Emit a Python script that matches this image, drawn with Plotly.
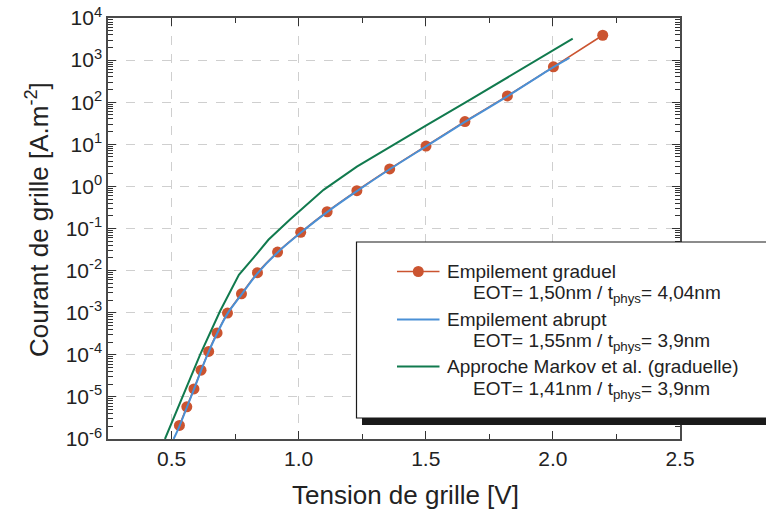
import plotly.graph_objects as go

# ---- data ----
graduel_v = [0.531, 0.560, 0.588, 0.616, 0.646, 0.679, 0.720, 0.775, 0.838, 0.917,
             1.008, 1.112, 1.229, 1.358, 1.501, 1.654, 1.821, 2.002, 2.196]
graduel_j = [2.1e-6, 5.8e-6, 1.55e-5, 4.3e-5, 1.2e-4, 3.3e-4, 9.8e-4, 2.8e-3, 8.9e-3, 2.75e-2,
             8.1e-2, 0.25, 0.79, 2.6, 9.1, 34.7, 141, 692, 3890]

abrupt_v = [0.508, 0.531, 0.560, 0.588, 0.616, 0.646, 0.679, 0.720, 0.775, 0.838, 0.917,
            1.008, 1.112, 1.229, 1.358, 1.501, 1.654, 1.821, 2.002, 2.065]
abrupt_j = [1.0e-6, 2.0e-6, 5.6e-6, 1.5e-5, 4.2e-5, 1.17e-4, 3.2e-4, 9.5e-4, 2.7e-3, 8.6e-3, 2.7e-2,
            7.9e-2, 0.245, 0.77, 2.55, 8.9, 34, 138, 680, 1130]

markov_v = [0.474, 0.544, 0.612, 0.691, 0.765, 0.822, 0.881, 0.967, 1.098, 1.229,
            1.360, 1.502, 1.675, 1.850, 2.078]
markov_j = [1.0e-6, 1.0e-5, 1.0e-4, 1.1e-3, 7.9e-3, 2.0e-2, 5.4e-2, 0.166, 0.83, 2.95,
            8.9, 28.2, 115, 490, 3240]

y_tick_exp = [-6, -5, -4, -3, -2, -1, 0, 1, 2, 3, 4]
x_ticks = [0.5, 1.0, 1.5, 2.0, 2.5]

legend_names = ["Empilement graduel", "Empilement abrupt", "Approche Markov et al. (graduelle)"]
legend_details = ["EOT= 1,50nm / t<sub>phys</sub>= 4,04nm",
                  "EOT= 1,55nm / t<sub>phys</sub>= 3,9nm",
                  "EOT= 1,41nm / t<sub>phys</sub>= 3,9nm"]

RED = "#CB5430"
BLUE = "#4A90D6"
GREEN = "#117A4E"
FONT = "Liberation Sans, Arial, sans-serif"

W, H = 766, 514
L, R, T, B = 108, 680, 18, 439

fig = go.Figure()
fig.add_trace(go.Scatter(x=graduel_v, y=graduel_j, mode="lines+markers",
                         line=dict(color=RED, width=1.6, shape="spline", smoothing=0.6),
                         marker=dict(color=RED, size=11), showlegend=False))
fig.add_trace(go.Scatter(x=abrupt_v, y=abrupt_j, mode="lines",
                         line=dict(color=BLUE, width=2, shape="spline", smoothing=0.6),
                         showlegend=False))
fig.add_trace(go.Scatter(x=markov_v, y=markov_j, mode="lines",
                         line=dict(color=GREEN, width=2), showlegend=False))

axis_common = dict(showline=True, linecolor="#4a4a4a", linewidth=1.5, mirror="allticks",
                   ticks="inside", ticklen=8, tickcolor="#333", tickwidth=1,
                   showgrid=True, gridcolor="#cfcfcf", griddash="dash", gridwidth=1,
                   zeroline=False, automargin=False,
                   tickfont=dict(family=FONT, size=21, color="#222"))

fig.update_xaxes(range=[0.25, 2.5], tickvals=x_ticks,
                 ticktext=[f"{v:.1f}" for v in x_ticks],
                 minor=dict(ticks="inside", ticklen=5, dtick=0.25, tick0=0.25,
                            tickcolor="#333", showgrid=False),
                 **axis_common)
fig.update_yaxes(type="log", range=[-6, 4],
                 tickvals=[10.0 ** e for e in y_tick_exp],
                 ticktext=[f"10<sup>{e}</sup>" for e in y_tick_exp],
                 minor=dict(ticks="inside", ticklen=5, dtick="D1",
                            tickcolor="#333", showgrid=False),
                 **axis_common)

def px(xp):
    return (xp - L) / (R - L)

def py(yp):
    return (B - yp) / (B - T)

shapes = []
# legend shadow and box
shapes.append(dict(type="rect", xref="paper", yref="paper", x0=px(362), x1=px(800),
                   y0=py(425), y1=py(249), fillcolor="#1a1a1a", line=dict(width=0), layer="above"))
shapes.append(dict(type="rect", xref="paper", yref="paper", x0=px(356.5), x1=px(800),
                   y0=py(418), y1=py(242), fillcolor="white", line=dict(color="#1a1a1a", width=1.2),
                   layer="above"))
colors = [RED, BLUE, GREEN]
name_y = [271.5, 319.5, 366.5]
detail_y = [293.5, 341.5, 389.5]
annotations = []
for i in range(3):
    shapes.append(dict(type="line", xref="paper", yref="paper", x0=px(397), x1=px(439.5),
                       y0=py(name_y[i]), y1=py(name_y[i]),
                       line=dict(color=colors[i], width=2 if i else 1.6), layer="above"))
    annotations.append(dict(xref="paper", yref="paper", x=px(445), y=py(name_y[i]),
                            text=legend_names[i], showarrow=False, xanchor="left", yanchor="middle",
                            font=dict(family=FONT, size=19, color="#222")))
    annotations.append(dict(xref="paper", yref="paper", x=px(471), y=py(detail_y[i]),
                            text=legend_details[i], showarrow=False, xanchor="left", yanchor="middle",
                            font=dict(family=FONT, size=19, color="#222")))
shapes.append(dict(type="circle", xref="paper", yref="paper", xsizemode="pixel", ysizemode="pixel",
                   xanchor=px(418.3), yanchor=py(name_y[0]), x0=-5.5, x1=5.5, y0=-5.5, y1=5.5,
                   fillcolor=RED, line=dict(width=0), layer="above"))

# axis titles
annotations.append(dict(xref="paper", yref="paper", x=px(405), y=py(495),
                        text="Tension de grille [V]", showarrow=False,
                        xanchor="center", yanchor="middle",
                        font=dict(family=FONT, size=26, color="#222")))
annotations.append(dict(xref="paper", yref="paper", x=px(37), y=py(220),
                        text="Courant de grille [A.m<sup>-2</sup>]", showarrow=False, textangle=-90,
                        xanchor="center", yanchor="middle",
                        font=dict(family=FONT, size=26, color="#222")))

fig.update_layout(width=W, height=H, margin=dict(l=L, r=W - R, t=T, b=H - B),
                  plot_bgcolor="white", paper_bgcolor="white",
                  shapes=shapes, annotations=annotations,
                  font=dict(family=FONT, color="#222"))

fig.write_html("out.html", config={"displayModeBar": False},
               post_script="document.body.style.margin='0px';document.body.style.overflow='hidden';")
